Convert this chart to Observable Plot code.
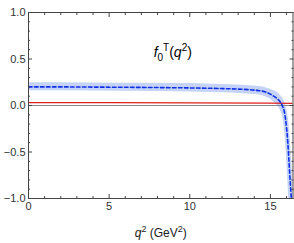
<!DOCTYPE html>
<html><head><meta charset="utf-8">
<script src="https://cdn.jsdelivr.net/npm/d3@7"></script>
<script src="https://cdn.jsdelivr.net/npm/@observablehq/plot@0.6"></script>
<style>body{margin:0;background:#fff}svg{display:block}</style>
</head><body><div id="chart"></div>
<script>
// central curve f0^T(q^2)
const centralQ2 = [0, 2, 4, 6, 8, 10, 12, 13, 14, 14.6, 15.2, 15.5, 15.73, 15.9, 16.0, 16.08, 16.15, 16.22, 16.3];
const centralF  = [0.20, 0.20, 0.198, 0.196, 0.193, 0.189, 0.182, 0.176, 0.165, 0.15, 0.10, 0.06, 0.0, -0.1, -0.24, -0.4, -0.6, -0.8, -1.0];
// uncertainty band
const bandQ2 = [0, 4, 8, 12, 13, 14, 14.6, 15.2, 15.5, 15.73, 15.9, 16.0, 16.08, 16.15, 16.22, 16.3, 16.4];
const bandHi = [0.245, 0.243, 0.238, 0.227, 0.221, 0.21, 0.197, 0.16, 0.13, 0.085, 0.03, -0.03, -0.1, -0.2, -0.35, -0.55, -0.85];
const bandLo = [0.158, 0.155, 0.15, 0.138, 0.13, 0.118, 0.1, 0.04, -0.02, -0.1, -0.3, -0.55, -0.8, -1.05, -1.2, -1.2, -1.2];
// red curve
const redQ2 = [0, 5, 10, 15, 16.4];
const redF  = [0.03, 0.03, 0.028, 0.025, 0.022];
// ticks
const xMajor = [0, 5, 10, 15];
const xMinor = [1, 2, 3, 4, 6, 7, 8, 9, 11, 12, 13, 14, 16];
const yMajor = [-1, -0.5, 0, 0.5, 1];
const yMinor = [-0.9, -0.8, -0.7, -0.6, -0.4, -0.3, -0.2, -0.1, 0.1, 0.2, 0.3, 0.4, 0.6, 0.7, 0.8, 0.9];
const yTickLabels = ["\u22121.0", "\u22120.5", "0.0", "0.5", "1.0"];

const central = centralQ2.map((q, i) => ({q, f: centralF[i]}));
const band = bandQ2.map((q, i) => ({q, lo: bandLo[i], hi: bandHi[i]}));
const red = redQ2.map((q, i) => ({q, f: redF[i]}));

const font = "Liberation Sans, Arial, sans-serif";
const tickCol = "#444";

const plot = Plot.plot({
  width: 294, height: 243,
  marginLeft: 28, marginRight: 1.5, marginTop: 12, marginBottom: 45,
  style: {fontFamily: font, fontSize: "11px", color: "#333", background: "#fff"},
  x: {domain: [0, 16.4]},
  y: {domain: [-1, 1]},
  marks: [
    Plot.areaY(band, {x: "q", y1: "lo", y2: "hi", fill: "#c4d3f7", clip: true, curve: "monotone-x"}),
    Plot.ruleY([0], {stroke: "#888", strokeWidth: 1}),
    Plot.line(red, {x: "q", y: "f", stroke: "#e0201a", strokeWidth: 1.3, clip: true}),
    Plot.line(central, {x: "q", y: "f", stroke: "#1030e8", strokeWidth: 1.6, strokeDasharray: "3.5,2.5", clip: true, curve: "monotone-x"}),
    Plot.frame({stroke: tickCol}),
    // tick labels
    Plot.axisX({anchor: "bottom", ticks: xMajor, tickSize: 0, tickPadding: 4, tickFormat: d3.format("d"), label: null, fontSize: 11}),
    Plot.axisY({anchor: "left", ticks: yMajor, tickSize: 0, tickPadding: 3, tickFormat: (d, i) => yTickLabels[yMajor.indexOf(d)], label: null, fontSize: 11}),
    // inward ticks
    Plot.axisX({anchor: "bottom", ticks: xMajor, tickSize: -4, text: null, label: null, stroke: tickCol}),
    Plot.axisX({anchor: "bottom", ticks: xMinor, tickSize: -2, text: null, label: null, stroke: tickCol}),
    Plot.axisX({anchor: "top", ticks: xMajor, tickSize: -4, text: null, label: null, stroke: tickCol}),
    Plot.axisX({anchor: "top", ticks: xMinor, tickSize: -2, text: null, label: null, stroke: tickCol}),
    Plot.axisY({anchor: "left", ticks: yMajor, tickSize: -4, text: null, label: null, stroke: tickCol}),
    Plot.axisY({anchor: "left", ticks: yMinor, tickSize: -2, text: null, label: null, stroke: tickCol}),
    Plot.axisY({anchor: "right", ticks: yMajor, tickSize: -4, text: null, label: null, stroke: tickCol}),
    Plot.axisY({anchor: "right", ticks: yMinor, tickSize: -2, text: null, label: null, stroke: tickCol}),
    // title and axis label (rich text filled in below)
    Plot.text(["TITLE"], {frameAnchor: "top", dx: 12, dy: 44, lineAnchor: "bottom", fontSize: 14, fill: "#000"}),
    Plot.text(["XLABEL"], {frameAnchor: "bottom", dy: 38, lineAnchor: "bottom", fontSize: 12, fill: "#222"})
  ]
});

const svg = d3.select(plot);
svg.selectAll("text").each(function() {
  const t = d3.select(this);
  const s = t.text();
  if (s === "TITLE") {
    t.text("");
    t.append("tspan").attr("font-style", "italic").text("f");
    t.append("tspan").attr("font-size", 10).attr("dy", 4).text("0");
    t.append("tspan").attr("font-size", 10).attr("dy", -10).attr("dx", 0).text("T");
    t.append("tspan").attr("dy", 6).text("(");
    t.append("tspan").attr("font-style", "italic").text("q");
    t.append("tspan").attr("font-size", 10).attr("dy", -6).text("2");
    t.append("tspan").attr("dy", 6).text(")");
  } else if (s === "XLABEL") {
    t.text("");
    t.append("tspan").attr("font-style", "italic").text("q");
    t.append("tspan").attr("font-size", 9).attr("dy", -5).text("2");
    t.append("tspan").attr("dy", 5).text(" (GeV");
    t.append("tspan").attr("font-size", 9).attr("dy", -5).text("2");
    t.append("tspan").attr("dy", 5).text(")");
  }
});
document.getElementById("chart").appendChild(plot);
</script>
</body></html>
